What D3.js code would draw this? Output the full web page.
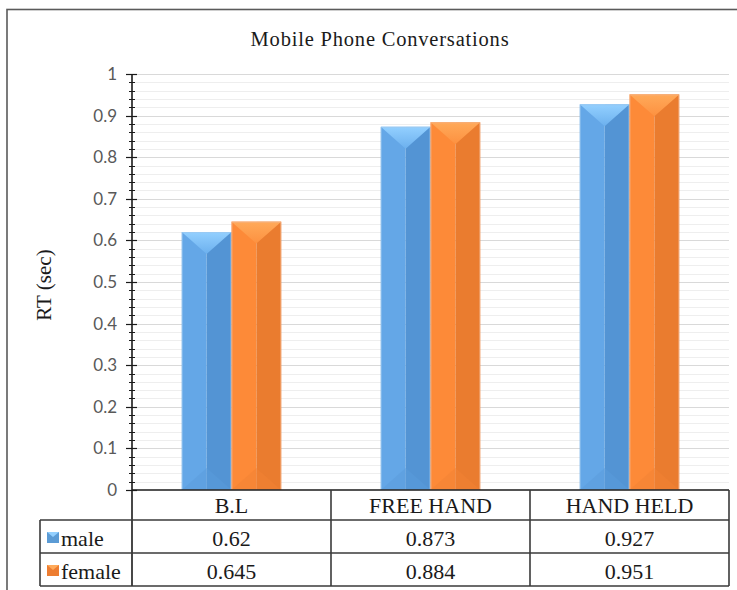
<!DOCTYPE html>
<html>
<head>
<meta charset="utf-8">
<script src="https://cdn.jsdelivr.net/npm/d3@7"></script>
<style>
  html, body { margin: 0; padding: 0; background: #ffffff; }
  svg { display: block; }
</style>
</head>
<body>
<script>
// ---- data ----
const title = "Mobile Phone Conversations";
const yLabel = "RT (sec)";
const categories = ["B.L", "FREE HAND", "HAND HELD"];
const seriesNames = ["male", "female"];
const maleValues = [0.62, 0.873, 0.927];
const femaleValues = [0.645, 0.884, 0.951];
const tableLabels = [["0.62", "0.873", "0.927"], ["0.645", "0.884", "0.951"]];
const yTicks = [0, 0.1, 0.2, 0.3, 0.4, 0.5, 0.6, 0.7, 0.8, 0.9, 1];
const yTickLabels = ["0", "0.1", "0.2", "0.3", "0.4", "0.5", "0.6", "0.7", "0.8", "0.9", "1"];

const seriesValues = [maleValues, femaleValues];
const palette = {
  male:   { light: "#64a7e7", dark: "#5394d4", top1: "#93d0ff", top2: "#6cb0ee", bottom: "#5a9bdc", edge: "#9cc8ee", key: "#5b9bd5" },
  female: { light: "#fd8a38", dark: "#ea7c2f", top1: "#ffaa5a", top2: "#fd9140", bottom: "#f18233", edge: "#f3b48a", key: "#ed7d31" }
};

const W = 737, H = 590;
const plotL = 132, plotR = 729, plotT = 74, plotB = 490;
const serif = "'Liberation Serif', 'Times New Roman', serif";
const sans = "Lato, 'Open Sans', sans-serif";

const svg = d3.select("body").append("svg").attr("width", W).attr("height", H);
const defs = svg.append("defs");
seriesNames.forEach(s => {
  const gr = defs.append("linearGradient").attr("id", "top-" + s).attr("x1", 0).attr("y1", 0).attr("x2", 0).attr("y2", 1);
  gr.append("stop").attr("offset", "0%").attr("stop-color", palette[s].top1);
  gr.append("stop").attr("offset", "100%").attr("stop-color", palette[s].top2);
});

// outer chart border
svg.append("rect").attr("x", 7).attr("y", 9.5).attr("width", 760).attr("height", 600)
  .attr("fill", "#ffffff").attr("stroke", "#5a5a5a").attr("stroke-width", 1.6);

// title
svg.append("text").attr("x", 380).attr("y", 46).attr("text-anchor", "middle")
  .attr("font-family", serif).attr("font-size", 20.5).attr("letter-spacing", 0.8)
  .attr("fill", "#1a1a1a").text(title);

// scales
const y = d3.scaleLinear().domain([0, 1]).range([plotB, plotT]);
const x = d3.scaleBand().domain(categories).range([plotL, plotR]).padding(0);
const xs = d3.scaleBand().domain(seriesNames).range([x.bandwidth() * 0.25, x.bandwidth() * 0.75]).padding(0);

// gridlines (minor then major)
const minorVals = d3.range(0, 51).map(i => i / 50).filter(v => Math.round(v * 50) % 5 !== 0);
svg.append("g").selectAll("line").data(minorVals).join("line")
  .attr("x1", plotL).attr("x2", plotR)
  .attr("y1", d => Math.round(y(d)) + 0.5).attr("y2", d => Math.round(y(d)) + 0.5)
  .attr("stroke", "#eeeeee").attr("stroke-width", 1);
svg.append("g").selectAll("line").data(yTicks.filter(v => v > 0)).join("line")
  .attr("x1", plotL).attr("x2", plotR)
  .attr("y1", d => Math.round(y(d)) + 0.5).attr("y2", d => Math.round(y(d)) + 0.5)
  .attr("stroke", "#d9d9d9").attr("stroke-width", 1);

// bars
const barG = svg.append("g");
categories.forEach((cat, ci) => {
  seriesNames.forEach((s, si) => {
    const v = seriesValues[si][ci];
    const x0 = x(cat) + xs(s);
    const w = xs.bandwidth();
    const x1 = x0 + w;
    const xc = x0 + w / 2;
    const y0 = y(v), yb = y(0);
    const c = palette[s];
    const depth = w * 0.44;
    const g = barG.append("g");
    g.append("rect").attr("x", x0).attr("y", y0).attr("width", w / 2).attr("height", yb - y0).attr("fill", c.light);
    g.append("rect").attr("x", xc).attr("y", y0).attr("width", w / 2).attr("height", yb - y0).attr("fill", c.dark);
    // bottom bevel
    g.append("polygon").attr("points", `${x0},${yb} ${xc},${yb - depth} ${x1},${yb}`).attr("fill", c.bottom).attr("opacity", 0.5);
    // top bevel
    g.append("polygon").attr("points", `${x0},${y0} ${x1},${y0} ${xc},${y0 + depth}`).attr("fill", `url(#top-${s})`);
    // outline
    g.append("rect").attr("x", x0 + 0.5).attr("y", y0 + 0.5).attr("width", w - 1).attr("height", yb - y0 - 1)
      .attr("fill", "none").attr("stroke", c.edge).attr("stroke-width", 1).attr("opacity", 0.7);
  });
});

// y axis ticks
const axG = svg.append("g");
const minorAll = d3.range(0, 51).map(i => i / 50);
axG.selectAll("line.minor").data(minorAll).join("line").attr("class", "minor")
  .attr("x1", plotL - 3).attr("x2", plotL + 3)
  .attr("y1", d => Math.round(y(d)) + 0.5).attr("y2", d => Math.round(y(d)) + 0.5)
  .attr("stroke", "#1a1a1a").attr("stroke-width", 1);
axG.selectAll("line.major").data(yTicks).join("line").attr("class", "major")
  .attr("x1", plotL - 6).attr("x2", plotL + 5)
  .attr("y1", d => Math.round(y(d)) + 0.5).attr("y2", d => Math.round(y(d)) + 0.5)
  .attr("stroke", "#1a1a1a").attr("stroke-width", 1.2);
axG.append("line").attr("x1", plotL).attr("x2", plotL).attr("y1", plotT).attr("y2", 586)
  .attr("stroke", "#1a1a1a").attr("stroke-width", 1.6);
axG.selectAll("text").data(yTicks).join("text")
  .attr("x", 117).attr("y", d => y(d) + 6).attr("text-anchor", "end")
  .attr("font-family", sans).attr("font-size", 17).attr("fill", "#595959")
  .text((d, i) => yTickLabels[i]);

// y label
svg.append("text").attr("transform", "translate(51,285) rotate(-90)").attr("text-anchor", "middle")
  .attr("font-family", serif).attr("font-size", 21).attr("fill", "#1a1a1a").text(yLabel);

// data table
const rowTops = [490, 520, 553, 586];
const tG = svg.append("g");
const lineColor = "#3a3a3a";
tG.append("line").attr("x1", plotL).attr("x2", plotR).attr("y1", 490).attr("y2", 490).attr("stroke", "#1a1a1a").attr("stroke-width", 1.6);
[520, 553, 586].forEach(yy => {
  tG.append("line").attr("x1", 40).attr("x2", plotR).attr("y1", yy).attr("y2", yy).attr("stroke", lineColor).attr("stroke-width", 1.6);
});
tG.append("line").attr("x1", 40).attr("x2", 40).attr("y1", 520).attr("y2", 586).attr("stroke", lineColor).attr("stroke-width", 1.6);
categories.forEach(cat => {
  const xe = x(cat) + x.bandwidth();
  tG.append("line").attr("x1", xe).attr("x2", xe).attr("y1", 490).attr("y2", 586).attr("stroke", lineColor).attr("stroke-width", 1.6);
});
tG.selectAll("text.cat").data(categories).join("text").attr("class", "cat")
  .attr("x", d => x(d) + x.bandwidth() / 2).attr("y", 513).attr("text-anchor", "middle")
  .attr("font-family", serif).attr("font-size", 22).attr("fill", "#1a1a1a").text(d => d);
seriesNames.forEach((s, si) => {
  const yb = rowTops[si + 2] - 7;
  tG.selectAll("text.v" + si).data(categories).join("text").attr("class", "v" + si)
    .attr("x", d => x(d) + x.bandwidth() / 2).attr("y", yb).attr("text-anchor", "middle")
    .attr("font-family", serif).attr("font-size", 22).attr("fill", "#1a1a1a")
    .text((d, ci) => tableLabels[si][ci]);
  const ky = rowTops[si + 1] + 12;
  const c = palette[s];
  tG.append("rect").attr("x", 47).attr("y", ky).attr("width", 12).attr("height", 11).attr("fill", c.key);
  tG.append("polygon").attr("points", `47,${ky} 59,${ky} 53,${ky + 5}`).attr("fill", c.top1);
  tG.append("text").attr("x", 61).attr("y", yb).attr("font-family", serif).attr("font-size", 22)
    .attr("fill", "#1a1a1a").text(s);
});
</script>
</body>
</html>
